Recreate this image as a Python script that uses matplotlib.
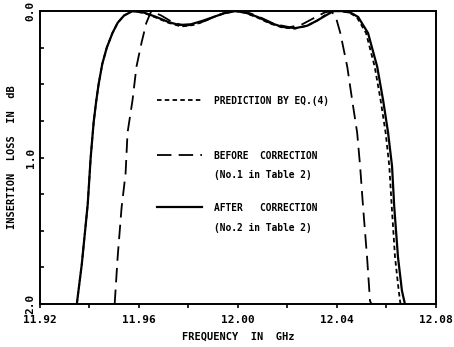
import matplotlib
matplotlib.use("Agg")
import matplotlib.pyplot as plt
from matplotlib.ticker import MultipleLocator

# 読み取った値 (周波数 GHz, 挿入損失 dB)
freq_after = [11.9349, 11.9369, 11.9393, 11.9405, 11.9417, 11.9427, 11.9437, 11.9452,
              11.947, 11.9493, 11.9514, 11.954, 11.9574, 11.962, 11.967, 11.972,
              11.9763, 11.981, 11.986, 11.991, 11.995, 11.999, 12.003, 12.008,
              12.013, 12.018, 12.0233, 12.028, 12.032, 12.0355, 12.0386, 12.042,
              12.0455, 12.0486, 12.0526, 12.0563, 12.0587, 12.0607, 12.0623, 12.0632,
              12.0647, 12.0663, 12.0675]
loss_after = [2.0, 1.73, 1.32, 1.0, 0.76, 0.62, 0.5, 0.36,
              0.25, 0.15, 0.08, 0.03, 0.0, 0.01, 0.04, 0.075,
              0.095, 0.09, 0.065, 0.035, 0.012, 0.0, 0.01, 0.04,
              0.08, 0.108, 0.116, 0.1, 0.065, 0.03, 0.0, 0.0,
              0.01, 0.04, 0.15, 0.38, 0.61, 0.83, 1.06, 1.34,
              1.68, 1.91, 2.0]

freq_pred = [11.9349, 11.9369, 11.9393, 11.9405, 11.9417, 11.9427, 11.9437, 11.9452,
             11.947, 11.9493, 11.9514, 11.954, 11.9574, 11.962, 11.967, 11.972,
             11.977, 11.982, 11.987, 11.991, 11.995, 11.999, 12.003, 12.008,
             12.013, 12.018, 12.023, 12.028, 12.032, 12.035, 12.038, 12.0415,
             12.045, 12.048, 12.0518, 12.0553, 12.0577, 12.0597, 12.0612, 12.0622,
             12.0635, 12.065, 12.0657]
loss_pred = [2.0, 1.73, 1.32, 1.0, 0.76, 0.62, 0.5, 0.36,
             0.25, 0.15, 0.08, 0.03, 0.0, 0.012, 0.045, 0.08,
             0.105, 0.095, 0.065, 0.035, 0.012, 0.0, 0.012, 0.045,
             0.085, 0.112, 0.12, 0.1, 0.065, 0.03, 0.0, 0.0,
             0.01, 0.04, 0.15, 0.38, 0.61, 0.83, 1.06, 1.34,
             1.68, 1.91, 2.0]

freq_before = [11.9502, 11.9514, 11.953, 11.9546, 11.9554, 11.9564, 11.9574, 11.959,
               11.961, 11.963, 11.965, 11.969, 11.974, 11.979, 11.984, 11.989,
               11.994, 12.0, 12.005, 12.01, 12.015, 12.021, 12.026, 12.031,
               12.035, 12.0375, 12.0394, 12.0414, 12.0442, 12.0462, 12.0482, 12.0494,
               12.0506, 12.0522, 12.0534, 12.054]
loss_before = [2.0, 1.68, 1.34, 1.11, 0.83, 0.72, 0.61, 0.38,
               0.22, 0.08, 0.0, 0.03, 0.08, 0.1, 0.085, 0.05,
               0.015, 0.0, 0.015, 0.05, 0.09, 0.11, 0.09, 0.045,
               0.01, 0.0, 0.03, 0.15, 0.38, 0.61, 0.83, 1.06,
               1.34, 1.68, 1.98, 2.0]

legend_labels = ["PREDICTION BY EQ.(4)",
                 "BEFORE  CORRECTION\n(No.1 in Table 2)",
                 "AFTER   CORRECTION\n(No.2 in Table 2)"]

x_ticks = [11.92, 11.96, 12.00, 12.04, 12.08]
y_ticks = [0.0, 1.0, 2.0]

font = {"family": "DejaVu Sans Mono", "weight": "bold"}

fig = plt.figure(figsize=(4.54, 3.47), dpi=100)
ax = fig.add_axes([0.088, 0.124, 0.872, 0.844])

ax.plot(freq_pred, loss_pred, color="black", lw=1.3, ls=(0, (2.5, 1.8)))
ax.plot(freq_before, loss_before, color="black", lw=1.3, ls=(0, (8, 4)))
ax.plot(freq_after, loss_after, color="black", lw=1.6, ls="-")

ax.set_xlim(11.92, 12.08)
ax.set_ylim(2.0, 0.0)
ax.set_xticks(x_ticks)
ax.set_xticklabels(["%.2f" % v for v in x_ticks], fontdict=font, fontsize=8)
ax.xaxis.set_minor_locator(MultipleLocator(0.02))
ax.set_yticks(y_ticks)
ax.set_yticklabels(["%.1f" % v for v in y_ticks], fontdict=font, fontsize=8,
                   rotation=90, va="center")
ax.yaxis.set_minor_locator(MultipleLocator(0.25))
ax.tick_params(axis="x", which="both", direction="out", length=3, width=1.2, pad=5)
ax.tick_params(axis="y", which="both", direction="in", length=3, width=1.2, pad=3)
for s in ax.spines.values():
    s.set_linewidth(1.4)

ax.set_xlabel("FREQUENCY  IN  GHz", fontdict=font, fontsize=7.5, labelpad=5)
ax.set_ylabel("INSERTION  LOSS  IN  dB", fontdict=font, fontsize=7.5, labelpad=6)

# 凡例 (図中に配置)
styles = [dict(lw=1.3, ls=(0, (2.5, 1.8))), dict(lw=1.3, ls=(0, (8, 4))), dict(lw=1.6, ls="-")]
rows = [0.695, 0.51, 0.33]
for lab, st, yy in zip(legend_labels, styles, rows):
    ax.plot([0.295, 0.41], [yy, yy], transform=ax.transAxes, color="black", **st)
    ax.text(0.44, yy + 0.014, lab, transform=ax.transAxes, fontdict=font, fontsize=6.9,
            va="top", linespacing=2.2)

fig.savefig("out.png", dpi=100)
